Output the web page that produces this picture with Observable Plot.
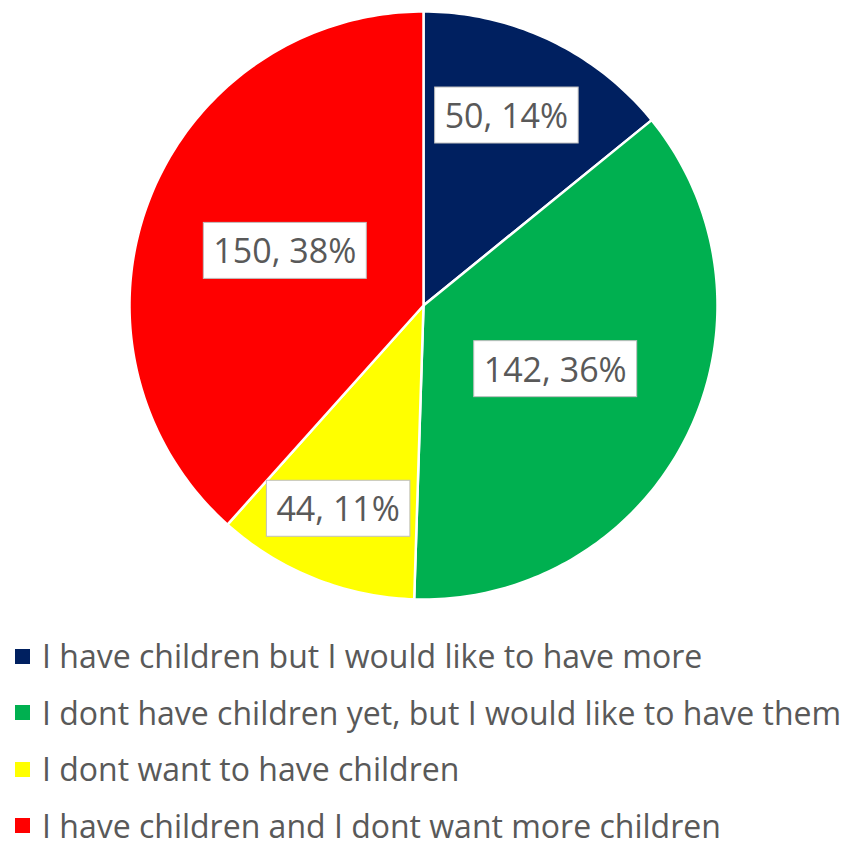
<!DOCTYPE html>
<html>
<head>
<meta charset="utf-8">
<script src="https://cdn.jsdelivr.net/npm/d3@7"></script>
<script src="https://cdn.jsdelivr.net/npm/@observablehq/plot@0.6"></script>
<style>
  body { margin: 0; background: #fff; font-family: "Open Sans", Lato, sans-serif; overflow: hidden; }
  #chart { width: 848px; height: 610px; }
  .legend { padding-top: 29px; }
  .legend .row { height: 34px; line-height: 34px; margin-bottom: 22.5px; display: flex; align-items: center; font-size: 32px; color: #595959; white-space: nowrap; }
  .legend .sw { width: 15px; height: 15px; margin-left: 15px; margin-right: 12px; flex: none; }
</style>
</head>
<body>
<div id="chart"></div>
<script>
// ---- data ----
const categories = [
  "I have children but I would like to have more",
  "I dont have children yet, but I would like to have them",
  "I dont want to have children",
  "I have children and I dont want more children"
];
const counts = [50, 142, 44, 150];
const percents = [14, 36, 11, 38];
const colors = ["#002060", "#00B050", "#FFFF00", "#FF0000"];

// ---- layout constants (label placement: fraction of radius, angle shift in degrees) ----
const labelRadius = [0.70, 0.50, 0.755, 0.505];
const labelAngleShift = [-1.7, 0, 0.8, 0];

const total = d3.sum(percents);
const slices = [];
const labels = [];
let acc = 0;
percents.forEach((p, i) => {
  const a0 = acc / total * 2 * Math.PI;
  acc += p;
  const a1 = acc / total * 2 * Math.PI;
  const n = Math.max(4, Math.ceil((a1 - a0) / (Math.PI / 180)));
  slices.push({cat: categories[i], x: 0, y: 0});
  for (let k = 0; k <= n; k++) {
    const a = a0 + (a1 - a0) * k / n;
    slices.push({cat: categories[i], x: Math.sin(a), y: Math.cos(a)});
  }
  slices.push({cat: categories[i], x: 0, y: 0});
  const am = (a0 + a1) / 2 + labelAngleShift[i] * Math.PI / 180;
  labels.push({
    cat: categories[i],
    x: labelRadius[i] * Math.sin(am),
    y: labelRadius[i] * Math.cos(am),
    text: `${counts[i]}, ${percents[i]}%`
  });
});

const plot = Plot.plot({
  width: 848,
  height: 610,
  marginLeft: 129,
  marginRight: 131,
  marginTop: 11,
  marginBottom: 11,
  x: {domain: [-1, 1], axis: null},
  y: {domain: [-1, 1], axis: null},
  color: {domain: categories, range: colors},
  style: {background: "#fff"},
  marks: [
    Plot.line(slices, {x: "x", y: "y", z: "cat", fill: "cat", stroke: "white", strokeWidth: 2.5, strokeLinejoin: "round"}),
    Plot.text(labels, {x: "x", y: "y", text: "text", fontSize: 34, fill: "#595959",
      fontFamily: "'Open Sans', Lato, sans-serif", className: "pielabel"})
  ]
});
document.getElementById("chart").appendChild(plot);

// white label boxes behind texts
plot.querySelectorAll("g.pielabel text").forEach(t => {
  const b = t.getBBox();
  const padX = 10, h = 56;
  const cy = b.y + b.height / 2;
  const r = document.createElementNS("http://www.w3.org/2000/svg", "rect");
  r.setAttribute("x", b.x - padX);
  r.setAttribute("y", cy - h / 2);
  r.setAttribute("width", b.width + 2 * padX);
  r.setAttribute("height", h);
  r.setAttribute("fill", "#fff");
  r.setAttribute("stroke", "#bfbfbf");
  r.setAttribute("stroke-width", 1);
  const tr = t.getAttribute("transform");
  if (tr) r.setAttribute("transform", tr);
  t.parentNode.insertBefore(r, t);
});

// legend
const leg = d3.select("body").append("div").attr("class", "legend");
categories.forEach((c, i) => {
  const row = leg.append("div").attr("class", "row");
  row.append("div").attr("class", "sw").style("background", colors[i]);
  row.append("span").text(c);
});
</script>
</body>
</html>
